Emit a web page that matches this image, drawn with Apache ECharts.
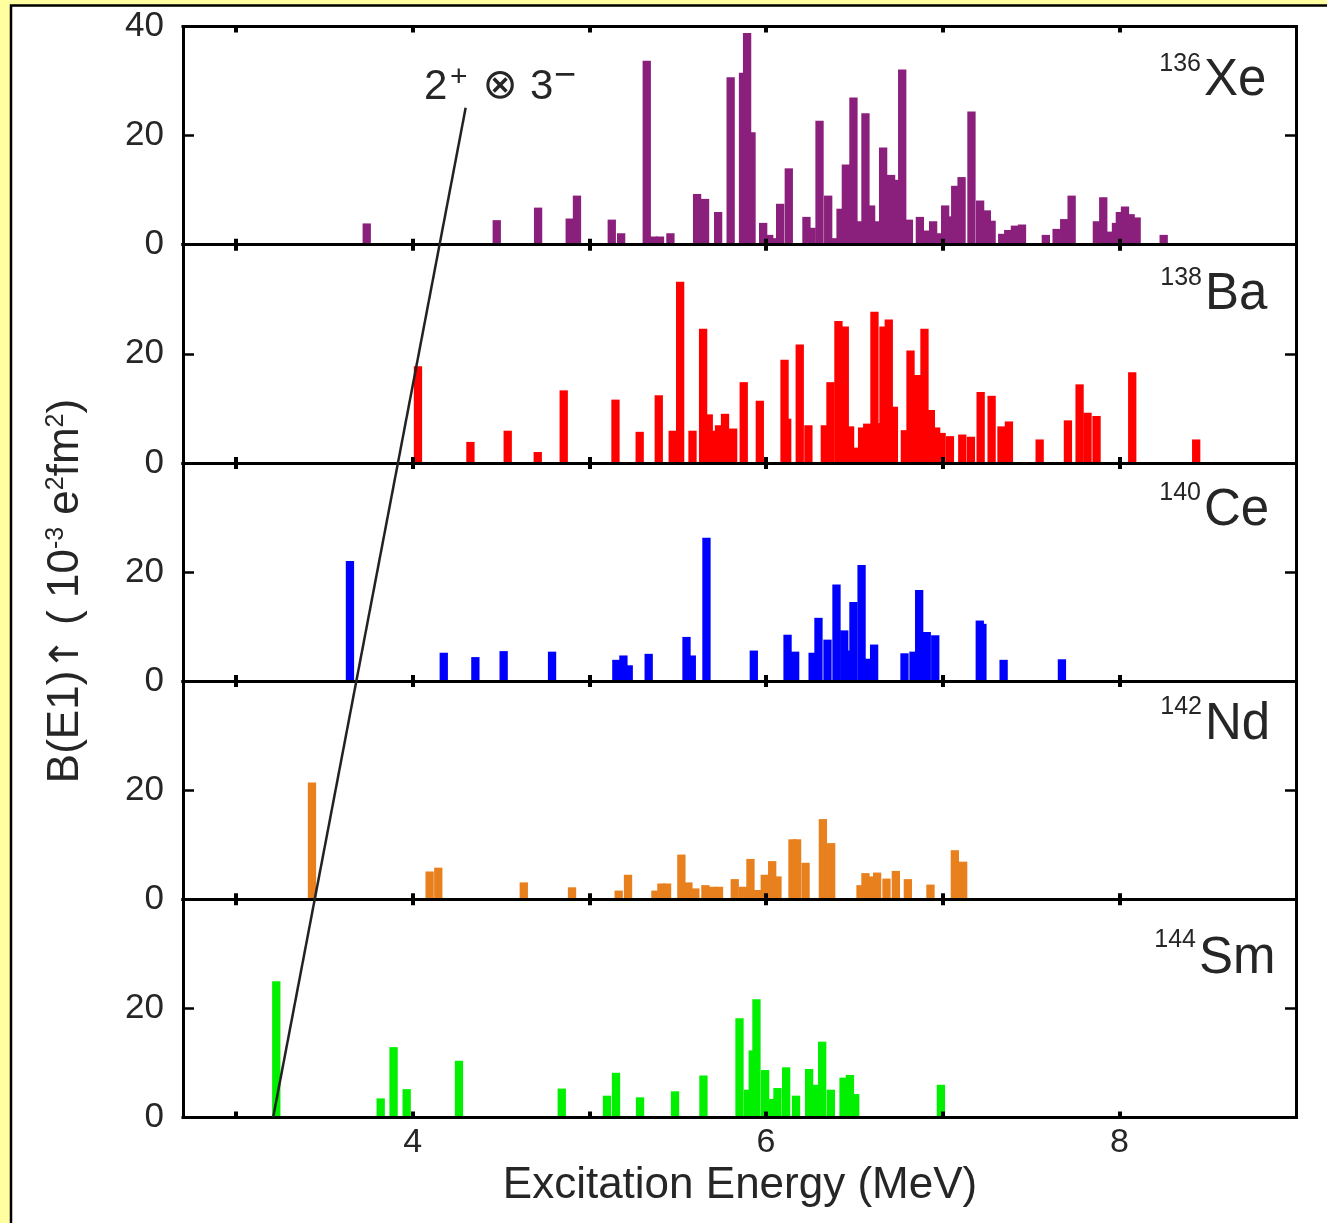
<!DOCTYPE html>
<html>
<head>
<meta charset="utf-8">
<script src="https://cdn.jsdelivr.net/npm/echarts@6/dist/echarts.min.js"></script>
<style>
  html, body { margin: 0; padding: 0; background: #FFFFA0; }
  #chart { width: 1327px; height: 1223px; }
</style>
</head>
<body>
<div id="chart"></div>
<script>
// Excitation energy axis (MeV) and B(E1)↑ axis (10^-3 e^2 fm^2)
const energyRange = [2.7, 9.0];
const strengthRange = [0, 40];
const energyTicks = [3, 4, 5, 6, 7, 8];
const energyLabels = [4, 6, 8];
const strengthTicks = [20];
const strengthLabelsTop = [0, 20, 40];
const strengthLabels = [0, 20];

const massNumbers = ['136', '138', '140', '142', '144'];
const elements = ['Xe', 'Ba', 'Ce', 'Nd', 'Sm'];

// [energy MeV, B(E1)↑]
const xe136 = [
  [3.74, 3.9], [4.476, 4.5], [4.71, 6.8], [4.889, 4.8], [4.93, 9.0], [5.127, 4.6], [5.18, 2.1],
  [5.325, 33.7], [5.363, 1.5], [5.40, 1.5], [5.459, 2.1], [5.61, 9.3], [5.655, 8.4], [5.729, 6.0],
  [5.80, 30.7], [5.87, 31.5], [5.893, 38.8], [5.918, 20.6], [5.984, 4.0], [6.018, 1.8], [6.04, 1.2],
  [6.08, 7.5], [6.129, 14.0], [6.229, 5.1], [6.258, 3.1], [6.303, 22.7], [6.352, 9.0], [6.395, 1.2],
  [6.422, 6.6], [6.452, 14.7], [6.495, 27.0], [6.527, 4.3], [6.563, 24.1], [6.595, 7.2], [6.616, 4.3],
  [6.663, 17.8], [6.708, 12.8], [6.739, 11.9], [6.771, 32.1], [6.809, 4.6], [6.871, 5.1], [6.905, 2.6],
  [6.946, 4.3], [6.98, 2.1], [7.014, 7.2], [7.048, 5.2], [7.071, 10.8], [7.107, 12.4], [7.163, 24.4],
  [7.212, 8.1], [7.25, 6.3], [7.277, 4.4], [7.337, 2.0], [7.371, 2.7], [7.409, 3.5], [7.449, 3.7],
  [7.584, 1.8], [7.645, 2.9], [7.688, 4.7], [7.73, 9.0], [7.873, 4.3], [7.909, 8.7], [7.952, 2.4],
  [7.981, 4.0], [8.003, 6.0], [8.032, 7.0], [8.064, 5.6], [8.098, 5.0], [8.251, 1.8]
];
const ba138 = [
  [4.03, 17.7], [4.327, 3.85], [4.538, 5.9], [4.708, 2.0], [4.855, 13.3], [5.148, 11.6], [5.285, 5.7],
  [5.393, 12.4], [5.472, 5.9], [5.514, 33.2], [5.584, 5.9], [5.644, 24.6], [5.676, 8.9], [5.70, 5.9],
  [5.734, 6.9], [5.768, 9.0], [5.814, 6.3], [5.874, 14.8], [5.965, 11.4], [6.105, 18.9], [6.12, 8.1],
  [6.191, 21.7], [6.24, 6.9], [6.333, 6.9], [6.365, 14.8], [6.41, 26.0], [6.446, 25.0], [6.476, 6.7],
  [6.503, 2.8], [6.544, 6.5], [6.573, 7.2], [6.614, 27.7], [6.648, 7.3], [6.665, 25.0], [6.695, 26.3],
  [6.724, 10.3], [6.786, 6.0], [6.818, 20.6], [6.858, 16.1], [6.897, 24.6], [6.933, 9.7], [6.963, 6.5],
  [6.994, 5.5], [7.041, 4.9], [7.111, 5.2], [7.16, 4.8], [7.215, 13.0], [7.277, 12.3], [7.333, 6.7],
  [7.375, 7.6], [7.549, 4.3], [7.709, 7.8], [7.775, 14.4], [7.82, 9.2], [7.871, 8.6], [8.073, 16.6],
  [8.435, 4.3]
];
const ce140 = [
  [3.645, 22.0], [4.176, 5.2], [4.355, 4.4], [4.515, 5.5], [4.789, 5.4], [5.153, 3.9], [5.193, 4.7],
  [5.223, 2.9], [5.336, 5.0], [5.55, 8.1], [5.58, 4.7], [5.663, 26.3], [5.931, 5.6], [6.122, 8.5],
  [6.165, 5.4], [6.264, 5.2], [6.297, 11.6], [6.348, 7.6], [6.399, 17.7], [6.443, 9.3], [6.467, 5.6],
  [6.495, 14.5], [6.541, 21.3], [6.575, 4.1], [6.612, 6.7], [6.784, 5.1], [6.835, 5.4], [6.867, 16.7],
  [6.91, 9.0], [6.958, 8.4], [7.21, 11.1], [7.225, 10.5], [7.345, 3.9], [7.675, 4.0]
];
const nd142 = [
  [3.43, 21.4], [4.096, 5.1], [4.145, 5.8], [4.629, 3.1], [4.902, 2.2], [5.166, 1.6], [5.219, 4.5],
  [5.374, 1.6], [5.408, 2.9], [5.44, 2.9], [5.521, 8.2], [5.561, 3.1], [5.60, 2.0], [5.657, 2.6],
  [5.70, 2.3], [5.734, 2.3], [5.823, 3.7], [5.869, 2.3], [5.912, 7.4], [5.955, 1.7], [5.993, 4.5],
  [6.035, 7.0], [6.065, 4.2], [6.15, 11.0], [6.176, 11.0], [6.224, 6.7], [6.322, 14.7], [6.369, 10.3],
  [6.535, 2.6], [6.563, 4.8], [6.597, 4.2], [6.629, 4.9], [6.682, 3.8], [6.735, 5.2], [6.803, 3.7],
  [6.931, 2.7], [7.069, 9.0], [7.116, 6.9]
];
const sm144 = [
  [3.228, 25.0], [3.819, 3.5], [3.892, 12.9], [3.966, 5.2], [4.262, 10.4], [4.844, 5.3], [5.10, 4.0],
  [5.151, 8.2], [5.287, 3.7], [5.485, 4.8], [5.646, 7.7], [5.85, 18.2], [5.898, 5.1], [5.925, 12.3],
  [5.946, 21.7], [5.995, 8.7], [6.033, 3.4], [6.065, 5.4], [6.114, 9.2], [6.17, 4.0], [6.244, 8.9],
  [6.282, 6.0], [6.318, 13.9], [6.367, 5.1], [6.439, 7.3], [6.475, 7.8], [6.505, 4.3], [6.99, 6.0]
];

// 2+ ⊗ 3− guide line: [energy, B(E1)] at its upper end (136Xe panel) and lower end (144Sm baseline)
const couplingLine = [[4.30, 25.1], [3.21, 0]];

const spectra = [xe136, ba138, ce140, nd142, sm144];
const colors = ['#8A1F7C', '#FF0000', '#0000FF', '#E8801E', '#00F000'];

// layout
const FONT = '"Liberation Sans", Arial, Helvetica, sans-serif';
const TEXT = '#262626';
const LEFT = 183, WIDTH = 1113, TOP = 26.5, PANEL = 218.2;
const HALF_BAR = 0.0235; // half bar width in MeV
const labelPos = [
  { supX: 1201, supY: 64, elY: 81 },
  { supX: 1202, supY: 278, elY: 295 },
  { supX: 1201, supY: 493, elY: 511 },
  { supX: 1202, supY: 707, elY: 725 },
  { supX: 1196, supY: 940, elY: 959 }
];

const axisLine = { show: true, onZero: false, lineStyle: { color: '#000', width: 3, cap: 'square' } };

const grids = [], xAxes = [], yAxes = [], series = [];
spectra.forEach((data, i) => {
  grids.push({ left: LEFT, width: WIDTH, top: TOP + i * PANEL, height: PANEL });
});
// bottom x axes
spectra.forEach((d, i) => {
  xAxes.push({
    gridIndex: i, type: 'value', position: 'bottom', min: energyRange[0], max: energyRange[1], z: 5,
    axisLine,
    axisTick: { show: true, inside: true, length: 6, customValues: energyTicks, lineStyle: { color: '#000', width: 4 } },
    axisLabel: { show: i === 4, customValues: energyLabels, fontSize: 34, color: TEXT, margin: 8, fontFamily: FONT },
    splitLine: { show: false }
  });
});
// top x axes
spectra.forEach((d, i) => {
  xAxes.push({
    gridIndex: i, type: 'value', position: 'top', min: energyRange[0], max: energyRange[1], z: 5,
    axisLine,
    axisTick: { show: true, inside: true, length: 6, customValues: energyTicks, lineStyle: { color: '#000', width: 4 } },
    axisLabel: { show: false },
    splitLine: { show: false }
  });
});
// left y axes
spectra.forEach((d, i) => {
  yAxes.push({
    gridIndex: i, type: 'value', position: 'left', min: strengthRange[0], max: strengthRange[1], interval: 20, z: 5,
    axisLine,
    axisTick: { show: true, inside: true, length: 11, customValues: strengthTicks, lineStyle: { color: '#000', width: 2.5 } },
    axisLabel: { show: true, customValues: i === 0 ? strengthLabelsTop : strengthLabels, fontSize: 35, color: TEXT, margin: 19, fontFamily: FONT },
    splitLine: { show: false }
  });
});
// right y axes
spectra.forEach((d, i) => {
  yAxes.push({
    gridIndex: i, type: 'value', position: 'right', min: strengthRange[0], max: strengthRange[1], interval: 20, z: 5,
    axisLine,
    axisTick: { show: true, inside: true, length: 11, customValues: strengthTicks, lineStyle: { color: '#000', width: 2.5 } },
    axisLabel: { show: false },
    splitLine: { show: false }
  });
});

function barRenderer(color) {
  return function (params, api) {
    const e = api.value(0), b = api.value(1);
    const p0 = api.coord([e - HALF_BAR, b]);
    const p1 = api.coord([e + HALF_BAR, 0]);
    return {
      type: 'rect',
      shape: { x: p0[0], y: p0[1], width: p1[0] - p0[0], height: p1[1] - p0[1] },
      style: { fill: color }
    };
  };
}
spectra.forEach((data, i) => {
  series.push({
    type: 'custom', name: massNumbers[i] + elements[i], xAxisIndex: i, yAxisIndex: i,
    data, renderItem: barRenderer(colors[i]), z: 2, silent: true
  });
});

const graphics = [
  { type: 'rect', id: 'frame', z: -100, shape: { x: 11, y: 5.5, width: 1400, height: 1300 },
    style: { fill: '#fff', stroke: '#000', lineWidth: 2.5 } },
  { type: 'text', id: 'xtitle', x: 740, y: 1186, style: { text: 'Excitation Energy (MeV)', font: '44px ' + FONT, fill: TEXT, align: 'center', verticalAlign: 'middle' } },
  { type: 'text', id: 'ytitle', x: 66, y: 591, rotation: Math.PI / 2,
    style: {
      text: '{n|B(E1)}{a|↑}{n| ( 10}{s|-3}{n| e}{s|2}{n|fm}{s|2}{n|)}',
      align: 'center', verticalAlign: 'middle', fill: TEXT,
      rich: {
        n: { fontSize: 44, fontFamily: FONT, lineHeight: 44, verticalAlign: 'bottom', fill: TEXT },
        a: { fontSize: 40, fontFamily: '"DejaVu Sans", sans-serif', lineHeight: 44, verticalAlign: 'bottom', fill: TEXT },
        s: { fontSize: 25, fontFamily: FONT, lineHeight: 18, verticalAlign: 'top', fill: TEXT }
      }
    } },
  // 2+ ⊗ 3− annotation
  { type: 'text', id: 'a1', x: 424, y: 87, style: { text: '2', font: '42px ' + FONT, fill: TEXT, align: 'left', verticalAlign: 'middle' } },
  { type: 'text', id: 'a2', x: 450, y: 78, style: { text: '+', font: '30px ' + FONT, fill: TEXT, align: 'left', verticalAlign: 'middle' } },
  { type: 'text', id: 'a3', x: 500, y: 87, style: { text: '⊗', font: '42px "DejaVu Sans", sans-serif', fill: TEXT, align: 'center', verticalAlign: 'middle' } },
  { type: 'text', id: 'a4', x: 530, y: 87, style: { text: '3', font: '42px ' + FONT, fill: TEXT, align: 'left', verticalAlign: 'middle' } },
  { type: 'text', id: 'a5', x: 554, y: 77, style: { text: '−', font: '38px ' + FONT, fill: TEXT, align: 'left', verticalAlign: 'middle' } }
];
labelPos.forEach((p, i) => {
  graphics.push({ type: 'text', id: 'sup' + i, x: p.supX, y: p.supY,
    style: { text: massNumbers[i], font: '25px ' + FONT, fill: TEXT, align: 'right', verticalAlign: 'middle' } });
  graphics.push({ type: 'text', id: 'el' + i, x: p.supX + 3, y: p.elY,
    style: { text: elements[i], font: '51px ' + FONT, fill: TEXT, align: 'left', verticalAlign: 'middle' } });
});

const chart = echarts.init(document.getElementById('chart'), null, { renderer: 'canvas' });
chart.setOption({
  backgroundColor: '#FFFFA0',
  animation: false,
  grid: grids,
  xAxis: xAxes,
  yAxis: yAxes,
  series,
  graphic: graphics
});

// guide line through the 2+ ⊗ 3− energies, placed through the panel scales
const pTop = chart.convertToPixel({ gridIndex: 0 }, couplingLine[0]);
const pBot = chart.convertToPixel({ gridIndex: 4 }, couplingLine[1]);
chart.setOption({
  graphic: [{
    type: 'line', id: 'coupling', z: 10,
    shape: { x1: pTop[0], y1: pTop[1], x2: pBot[0], y2: pBot[1] },
    style: { stroke: '#222', lineWidth: 2.5 }
  }]
});
</script>
</body>
</html>
